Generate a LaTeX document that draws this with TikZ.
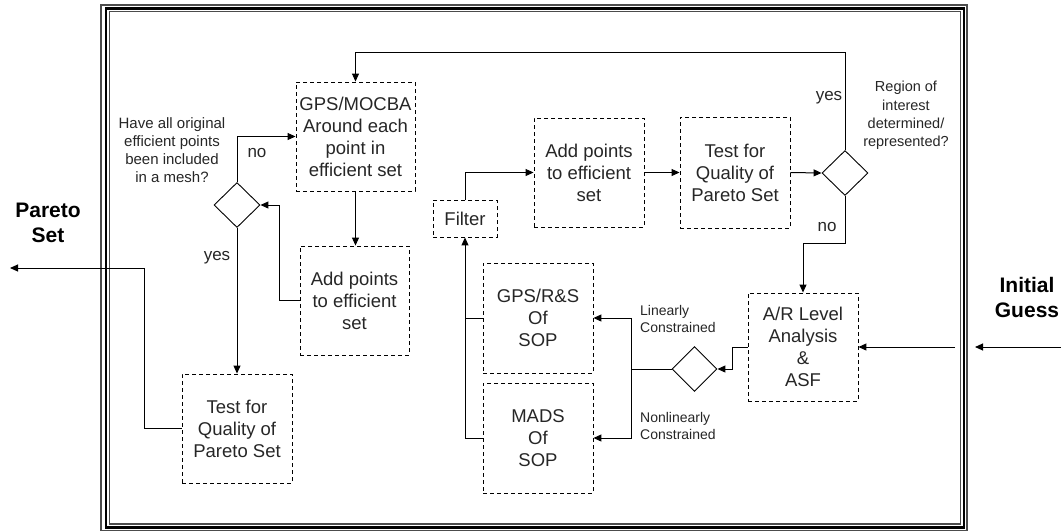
\documentclass[tikz,border=0pt]{standalone}
\usepackage{fontspec}
\setmainfont{Liberation Sans}
\usetikzlibrary{arrows.meta,shapes.geometric}
\tikzset{
  boxnode/.style={draw, dash pattern=on 4pt off 3pt, line width=0.9pt, inner sep=0pt,
    align=center, text=black!85, font=\fontsize{18.5}{22}\selectfont, minimum width=110pt, minimum height=110pt},
  dianode/.style={draw, diamond, aspect=1, inner sep=0pt, line width=0.9pt,
    minimum width=46pt, minimum height=45pt},
  conn/.style={line width=1pt, -{Triangle[length=8pt,width=7pt]}},
  plain/.style={line width=1pt},
  yesno/.style={font=\fontsize{17}{20}\selectfont, text=black!85, inner sep=0pt},
  question/.style={font=\fontsize{15}{18.2}\selectfont, text=black!85, align=center, inner sep=0pt},
  branch/.style={font=\fontsize{14}{17}\selectfont, text=black!85, align=left, inner sep=0pt, anchor=west},
  ioname/.style={font=\fontsize{21}{25}\selectfont\bfseries, align=center, inner sep=0pt}
}
\begin{document}
\begin{tikzpicture}[x=1pt,y=-1pt]
\useasboundingbox (0,0) rectangle (1061,531);
% frame
\draw[line width=1.2pt, black!70] (101,5) rectangle (967,530.5);
\draw[line width=2.6pt] (106,8.5) rectangle (964,527.5);
\draw[line width=1.2pt, black!70] (109.5,11.5) rectangle (960.5,524);

% nodes
\node[boxnode, minimum width=119pt, minimum height=109pt] (gpsm) at (355.5,136.5) {GPS/MOCBA\\Around each\\point in\\efficient set};
\node[boxnode, minimum width=109pt, minimum height=109pt] (addL) at (354.5,300.5) {Add points\\to efficient\\set};
\node[boxnode, minimum height=109pt] (testL) at (237,428.5) {Test for\\Quality of\\Pareto Set};
\node[dianode] (diaL) at (237,205) {};
\node[boxnode, minimum height=109pt] (addR) at (589,172.5) {Add points\\to efficient\\set};
\node[boxnode, minimum height=111pt] (testR) at (735,172.5) {Test for\\Quality of\\Pareto Set};
\node[dianode] (diaR) at (845,173) {};
\node[boxnode, minimum width=64pt, minimum height=37pt] (filter) at (465,218.5) {Filter};
\node[boxnode] (gpsrs) at (538,318) {GPS/R\&S\\Of\\SOP};
\node[boxnode] (mads) at (538,438) {MADS\\Of\\SOP};
\node[boxnode, minimum height=108pt] (ar) at (803,347) {A/R Level\\Analysis\\\&\\ASF};
\node[dianode, minimum width=45pt] (diaB) at (694.5,369) {};

% labels
\node[question] (q1) at (172,150) {Have all original\\efficient points\\been included\\in a mesh?};
\node[question, font=\fontsize{14.5}{18.3}\selectfont] (q2) at (906,115.5) {Region of\\interest\\determined/\\represented?};
\node[yesno] (noL) at (257,153) {no};
\node[yesno] (yesL) at (217,258) {yes};
\node[yesno] (yesR) at (829,98) {yes};
\node[yesno] (noR) at (827,227) {no};
\node[branch] (lin) at (640,318.5) {Linearly\\Constrained};
\node[branch] (nonlin) at (640,425.5) {Nonlinearly\\Constrained};
\node[ioname] (pareto) at (48,223) {Pareto\\Set};
\node[ioname] (initial) at (1027,297) {Initial\\Guess};

% connectors
\draw[conn] (diaL.north) |- (gpsm.west);
\draw[conn] (diaL.south) -- (testL.north);
\draw[conn] (gpsm.south) -- (gpsm.south |- addL.north);
\draw[conn] (addL.west) -- ++(-20,0) |- (diaL.east);
\coordinate (pout) at (10,268);
\draw[conn] (testL.west) -- ++(-37,0) |- (pout);

\coordinate (gin) at (1061,347);
\coordinate (gedge) at (975,347);
\coordinate (ginner) at (955,347);
\draw[conn] (gin) -- (gedge);
\draw[conn] (ginner) -- (ar.east);

\draw[conn] (ar.west) -- ++(-15,0) |- (diaB.east);
\draw[plain] (diaB.west) -- ++(-40,0) coordinate (split);
\draw[conn] (split) |- (gpsrs.east);
\draw[conn] (split) |- (mads.east);
\draw[conn] (mads.west) -| (filter.south);
\draw[plain] (gpsrs.west) -- (gpsrs.west -| filter.south);
\draw[conn] (filter.north) |- (addR.west);
\draw[conn] (addR.east) -- (testR.west);
\draw[conn] (testR.east) -- (diaR.west);
\draw[conn] (diaR.north) |- ([yshift=29pt]gpsm.north) -- (gpsm.north);
\draw[conn] (diaR.south) -- ++(0,48) -| (ar.north);
\end{tikzpicture}
\end{document}
